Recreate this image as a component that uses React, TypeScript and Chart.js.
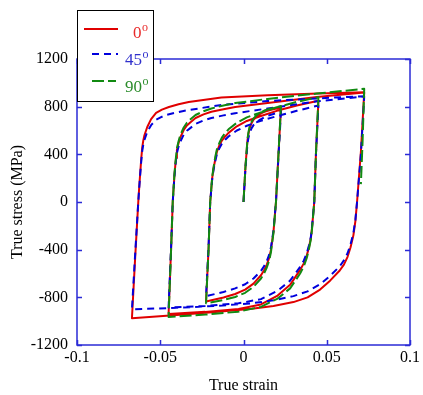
import React, { useEffect, useRef } from "react";
import { Chart, registerables } from "chart.js";

Chart.register(...registerables);

// Axis ticks
const xTicks = [-0.1, -0.05, 0, 0.05, 0.1];
const yTicks = [-1200, -800, -400, 0, 400, 800, 1200];

// Series labels / colours
const seriesLabels = ["0", "45", "90"];
const seriesColors = ["#e00000", "#0000dd", "#118a11"];
const legendTextColors = ["#e82a2a", "#3030cc", "#2b8c2b"];

// 0 degree (red)
const strain0 = [
  0, 0.0012, 0.0024, 0.003, 0.0038, 0.0048, 0.006, 0.008, 0.01, 0.013, 0.016, 0.0225,
  0.021, 0.0195, 0.018, 0.0172, 0.0165, 0.0155, 0.014, 0.0123, 0.0105, 0.006, 0.001, -0.005, -0.012, -0.0225,
  -0.021, -0.02, -0.0188, -0.018, -0.017, -0.016, -0.0145, -0.013, -0.011, -0.009, -0.004, 0.002, 0.01, 0.02, 0.032, 0.045,
  0.0435, 0.0425, 0.0412, 0.0405, 0.0393, 0.038, 0.0362, 0.034, 0.028, 0.0205, 0.0105, -0.003, -0.023, -0.045,
  -0.0435, -0.0425, -0.0415, -0.041, -0.0405, -0.04, -0.039, -0.038, -0.0359, -0.034, -0.032, -0.0288, -0.024, -0.0193, -0.012, -0.005, 0.0145, 0.044, 0.0725,
  0.0705, 0.0682, 0.0672, 0.066, 0.0643, 0.0625, 0.0603, 0.0578, 0.052, 0.046, 0.0385, 0.03, 0.018, 0.005, -0.015, -0.04, -0.067,
  -0.065, -0.0632, -0.0626, -0.062, -0.0614, -0.0608, -0.0602, -0.0595, -0.0578, -0.0555, -0.0525, -0.049, -0.0448, -0.039, -0.0329, -0.0133, 0.0145, 0.045, 0.0725,
];
const stress0 = [
  0, 300, 520, 575, 625, 660, 690, 720, 740, 760, 772, 792,
  400, 0, -250, -330, -400, -465, -525, -575, -615, -685, -735, -772, -802, -835,
  -400, 0, 200, 280, 355, 420, 475, 515, 550, 580, 635, 680, 720, 765, 810, 850,
  400, 0, -210, -300, -380, -450, -515, -570, -695, -785, -860, -898, -922, -940,
  -400, 0, 220, 300, 370, 436, 495, 540, 604, 642, 668, 705, 735, 757, 778, 797, 831, 881, 918,
  420, 0, -160, -280, -380, -460, -525, -575, -660, -735, -800, -840, -872, -895, -920, -948, -975,
  -450, 0, 130, 250, 365, 461, 515, 560, 629, 695, 747, 775, 797, 820, 839, 876, 895, 910, 922,
];

// 45 degree (blue)
const strain45 = [
  0, 0.0012, 0.0024, 0.003, 0.0038, 0.0048, 0.006, 0.008, 0.01, 0.013, 0.016, 0.0225,
  0.021, 0.0195, 0.018, 0.0172, 0.0165, 0.0155, 0.014, 0.0123, 0.0105, 0.006, 0.001, -0.005, -0.012, -0.0225,
  -0.021, -0.02, -0.0188, -0.018, -0.017, -0.016, -0.0145, -0.013, -0.011, -0.009, -0.004, 0.002, 0.01, 0.02, 0.032, 0.045,
  0.0435, 0.0425, 0.0412, 0.0405, 0.0393, 0.038, 0.0362, 0.034, 0.028, 0.0205, 0.0105, -0.003, -0.023, -0.045,
  -0.0435, -0.0425, -0.0415, -0.041, -0.0405, -0.04, -0.039, -0.038, -0.0359, -0.034, -0.032, -0.0288, -0.024, -0.0193, -0.012, -0.005, 0.0145, 0.044, 0.0725,
  0.0705, 0.0682, 0.0672, 0.066, 0.0643, 0.0625, 0.0603, 0.0578, 0.052, 0.046, 0.0385, 0.03, 0.018, 0.005, -0.015, -0.04, -0.067,
  -0.065, -0.0632, -0.0626, -0.062, -0.0614, -0.0608, -0.0602, -0.0595, -0.0578, -0.0555, -0.0525, -0.0495, -0.0466, -0.04, -0.0329, -0.0133, 0.0145, 0.045, 0.0725,
];
const stress45 = [
  0, 290, 490, 540, 585, 618, 645, 672, 692, 715, 730, 757,
  380, 0, -240, -315, -380, -440, -495, -540, -578, -642, -690, -725, -755, -790,
  -380, 0, 190, 270, 340, 400, 450, 488, 522, 550, 600, 640, 680, 720, 765, 810,
  400, 0, -200, -290, -365, -430, -492, -545, -660, -745, -815, -850, -872, -885,
  -380, 0, 210, 290, 355, 410, 465, 505, 565, 598, 620, 655, 685, 705, 727, 745, 785, 845, 885,
  400, 0, -150, -260, -355, -430, -490, -540, -620, -690, -750, -790, -825, -850, -870, -888, -900,
  -420, 0, 125, 240, 345, 430, 480, 520, 590, 645, 690, 712, 730, 752, 772, 814, 847, 870, 888,
];

// 90 degree (green)
const strain90 = [
  0, 0.0012, 0.0024, 0.003, 0.0038, 0.0048, 0.006, 0.008, 0.01, 0.013, 0.016, 0.0225,
  0.021, 0.0195, 0.018, 0.0172, 0.0165, 0.0155, 0.014, 0.0123, 0.0105, 0.006, 0.001, -0.005, -0.012, -0.0225,
  -0.021, -0.02, -0.0188, -0.018, -0.017, -0.016, -0.0145, -0.013, -0.011, -0.009, -0.004, 0.002, 0.01, 0.02, 0.032, 0.045,
  0.0435, 0.0425, 0.0412, 0.0405, 0.0393, 0.038, 0.0362, 0.034, 0.028, 0.0205, 0.0105, -0.003, -0.023, -0.045,
  -0.0435, -0.0425, -0.0415, -0.041, -0.0405, -0.04, -0.039, -0.038, -0.0359, -0.034, -0.032, -0.0288, -0.024, -0.0193, -0.012, -0.005, 0.0145, 0.044, 0.0725,
  0.0715, 0.0705,
];
const stress90 = [
  0, 300, 530, 588, 638, 672, 700, 730, 750, 770, 782, 805,
  400, 0, -260, -345, -420, -488, -550, -600, -642, -712, -762, -797, -822, -850,
  -400, 0, 210, 290, 375, 440, 495, 540, 578, 610, 665, 710, 750, 795, 840, 880,
  400, 0, -220, -310, -395, -470, -540, -600, -725, -810, -880, -920, -945, -965,
  -400, 0, 230, 310, 385, 450, 510, 560, 625, 665, 692, 730, 762, 785, 810, 830, 865, 910, 950,
  500, 150,
];

const AXIS_COLOR = "#2b2bd6";
const FONT = '"Liberation Serif", "Times New Roman", serif';

function toPoints(xs: number[], ys: number[]) {
  return xs.map((x, i) => ({ x, y: ys[i] }));
}

const framePlugin = {
  id: "frame",
  afterDatasetsDraw(chart: any) {
    const { ctx, chartArea, scales } = chart;
    const { left, right, top, bottom } = chartArea;
    const xs = scales.x;
    const ys = scales.y;
    ctx.save();
    ctx.strokeStyle = AXIS_COLOR;
    ctx.lineWidth = 1.5;
    ctx.strokeRect(left, top, right - left, bottom - top);
    const len = 5;
    ctx.beginPath();
    xTicks.forEach((v) => {
      const p = Math.round(xs.getPixelForValue(v)) + 0.5;
      ctx.moveTo(p, bottom);
      ctx.lineTo(p, bottom - len);
      ctx.moveTo(p, top);
      ctx.lineTo(p, top + len);
    });
    yTicks.forEach((v) => {
      const p = Math.round(ys.getPixelForValue(v)) + 0.5;
      ctx.moveTo(left, p);
      ctx.lineTo(left + len, p);
      ctx.moveTo(right, p);
      ctx.lineTo(right - len, p);
    });
    ctx.stroke();
    ctx.restore();
  },
  afterDraw(chart: any) {
    const { ctx } = chart;
    ctx.save();
    // legend box
    const bx = 77, by = 10, bw = 76, bh = 91;
    ctx.fillStyle = "#fff";
    ctx.fillRect(bx, by, bw, bh);
    ctx.strokeStyle = "#000";
    ctx.lineWidth = 1;
    ctx.strokeRect(bx + 0.5, by + 0.5, bw, bh);
    const rows = [
      { y: 29, x0: 84, x1: 118, tx: 133, base: 38, dash: [] as number[] },
      { y: 54, x0: 92, x1: 118, tx: 125, base: 65, dash: [7, 5] },
      { y: 81, x0: 92, x1: 116, tx: 125, base: 92, dash: [12, 4] },
    ];
    rows.forEach((r, i) => {
      ctx.strokeStyle = seriesColors[i];
      ctx.lineWidth = 2;
      ctx.setLineDash(r.dash);
      ctx.beginPath();
      ctx.moveTo(r.x0, r.y);
      ctx.lineTo(r.x1, r.y);
      ctx.stroke();
      ctx.setLineDash([]);
      ctx.fillStyle = legendTextColors[i];
      ctx.textAlign = "left";
      ctx.textBaseline = "alphabetic";
      ctx.font = `17px ${FONT}`;
      ctx.fillText(seriesLabels[i], r.tx, r.base);
      const w = ctx.measureText(seriesLabels[i]).width;
      ctx.font = `12px ${FONT}`;
      ctx.fillText("o", r.tx + w + 0.5, r.base - 7);
    });
    ctx.restore();
  },
};

export default function App() {
  const ref = useRef<HTMLCanvasElement | null>(null);

  useEffect(() => {
    if (!ref.current) return;
    const data = [
      { s: strain0, t: stress0, dash: [] as number[], order: 2 },
      { s: strain45, t: stress45, dash: [7, 5], order: 1 },
      { s: strain90, t: stress90, dash: [12, 4], order: 0 },
    ];
    const chart = new Chart(ref.current, {
      type: "scatter",
      data: {
        datasets: data.map((d, i) => ({
          label: seriesLabels[i],
          data: toPoints(d.s, d.t),
          showLine: true,
          borderColor: seriesColors[i],
          backgroundColor: seriesColors[i],
          borderWidth: 2,
          borderDash: d.dash,
          borderJoinStyle: "round",
          pointRadius: 0,
          tension: 0,
          order: d.order,
        })),
      },
      options: {
        animation: false,
        responsive: false,
        devicePixelRatio: 1,
        layout: {
          autoPadding: false,
          padding: { top: 59, right: 9, left: 0, bottom: 0 },
        },
        plugins: {
          legend: { display: false },
          tooltip: { enabled: false },
        },
        scales: {
          x: {
            type: "linear",
            min: -0.1,
            max: 0.1,
            afterFit: (s: any) => {
              s.height = 50;
            },
            afterBuildTicks: (s: any) => {
              s.ticks = xTicks.map((v) => ({ value: v }));
            },
            grid: { display: false, drawTicks: false },
            border: { display: false },
            ticks: {
              color: "#000",
              padding: 3,
              maxRotation: 0,
              font: { family: FONT, size: 16 },
              callback: (v: any) => String(Math.round(Number(v) * 100) / 100),
            },
            title: {
              display: true,
              text: "True strain",
              color: "#000",
              font: { family: FONT, size: 16 },
              padding: { top: 0, bottom: 0 },
            },
          },
          y: {
            type: "linear",
            min: -1200,
            max: 1200,
            afterFit: (s: any) => {
              s.width = 77;
            },
            afterBuildTicks: (s: any) => {
              s.ticks = yTicks.map((v) => ({ value: v }));
            },
            grid: { display: false, drawTicks: false },
            border: { display: false },
            ticks: {
              color: "#000",
              padding: 9,
              font: { family: FONT, size: 16 },
              callback: (v: any) => String(v),
            },
            title: {
              display: true,
              text: "True stress (MPa)",
              color: "#000",
              font: { family: FONT, size: 16 },
              padding: { top: 8, bottom: 0 },
            },
          },
        },
      },
      plugins: [framePlugin],
    });
    return () => chart.destroy();
  }, []);

  return (
    <div
      style={{
        position: "fixed",
        left: 0,
        top: 0,
        width: 423,
        height: 395,
        background: "#fff",
      }}
    >
      <canvas ref={ref} width={423} height={395} style={{ display: "block" }} />
    </div>
  );
}
